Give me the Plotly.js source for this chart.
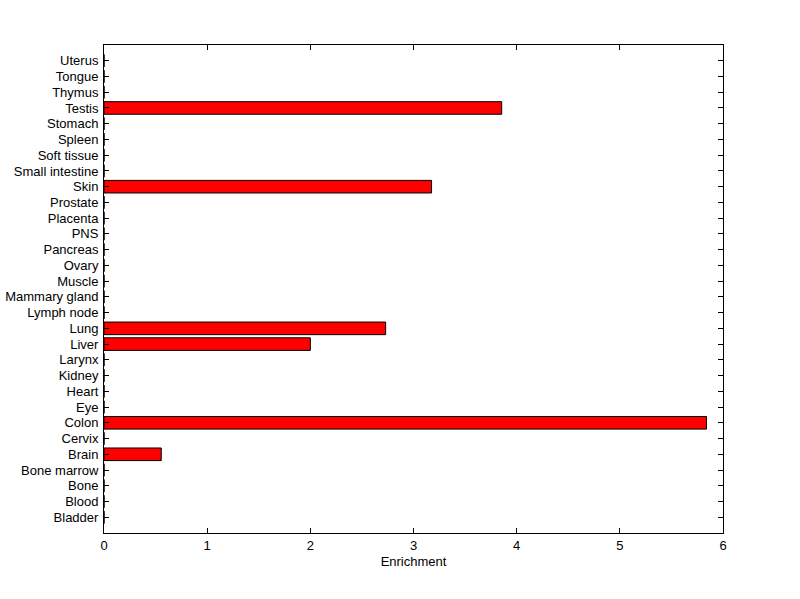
<!DOCTYPE html>
<html>
<head>
<meta charset="utf-8">
<script src="https://cdn.plot.ly/plotly-3.0.1.min.js"></script>
<style>html,body{margin:0;padding:0;background:#fff;}#chart{width:800px;height:599px;}</style>
</head>
<body>
<div id="chart"></div>
<script>
const tissues = ["Bladder","Blood","Bone","Bone marrow","Brain","Cervix","Colon","Eye","Heart","Kidney","Larynx","Liver","Lung","Lymph node","Mammary gland","Muscle","Ovary","Pancreas","PNS","Placenta","Prostate","Skin","Small intestine","Soft tissue","Spleen","Stomach","Testis","Thymus","Tongue","Uterus"];
const enrichment = [0,0,0,0,0.555,0,5.84,0,0,0,0,2.0,2.73,0,0,0,0,0,0,0,0,3.175,0,0,0,0,3.855,0,0,0];
const xTicks = [0,1,2,3,4,5,6];

Plotly.newPlot('chart', [{
  type: 'bar',
  orientation: 'h',
  y: tissues,
  x: enrichment,
  width: 0.8,
  marker: {color: '#ff0000', line: {color: '#000000', width: 1}},
  hoverinfo: 'x+y'
}], {
  width: 800, height: 599,
  paper_bgcolor: '#ffffff', plot_bgcolor: '#ffffff',
  margin: {l: 104, r: 77, t: 45, b: 66},
  showlegend: false,
  font: {family: 'Liberation Sans, Arial, sans-serif', size: 13, color: '#000'},
  xaxis: {
    range: [0, 6], tickmode: 'array', tickvals: xTicks, ticktext: xTicks.map(String),
    ticks: 'inside', ticklen: 5, tickcolor: '#000', mirror: 'ticks',
    showline: true, linecolor: '#000', linewidth: 1, showgrid: false, zeroline: false,
    title: {text: 'Enrichment', font: {size: 13}, standoff: 5},
    tickfont: {size: 13}
  },
  yaxis: {
    type: 'category', categoryorder: 'array', categoryarray: tissues,
    tickmode: 'array', tickvals: tissues, ticktext: tissues,
    range: [-1, 30],
    ticks: 'inside', ticklen: 5, tickcolor: '#000', mirror: 'ticks',
    showline: true, linecolor: '#000', linewidth: 1, showgrid: false, zeroline: false,
    tickfont: {size: 13}, ticklabelstandoff: 2, automargin: false
  }
}, {displayModeBar: false, staticPlot: true});
</script>
</body>
</html>
